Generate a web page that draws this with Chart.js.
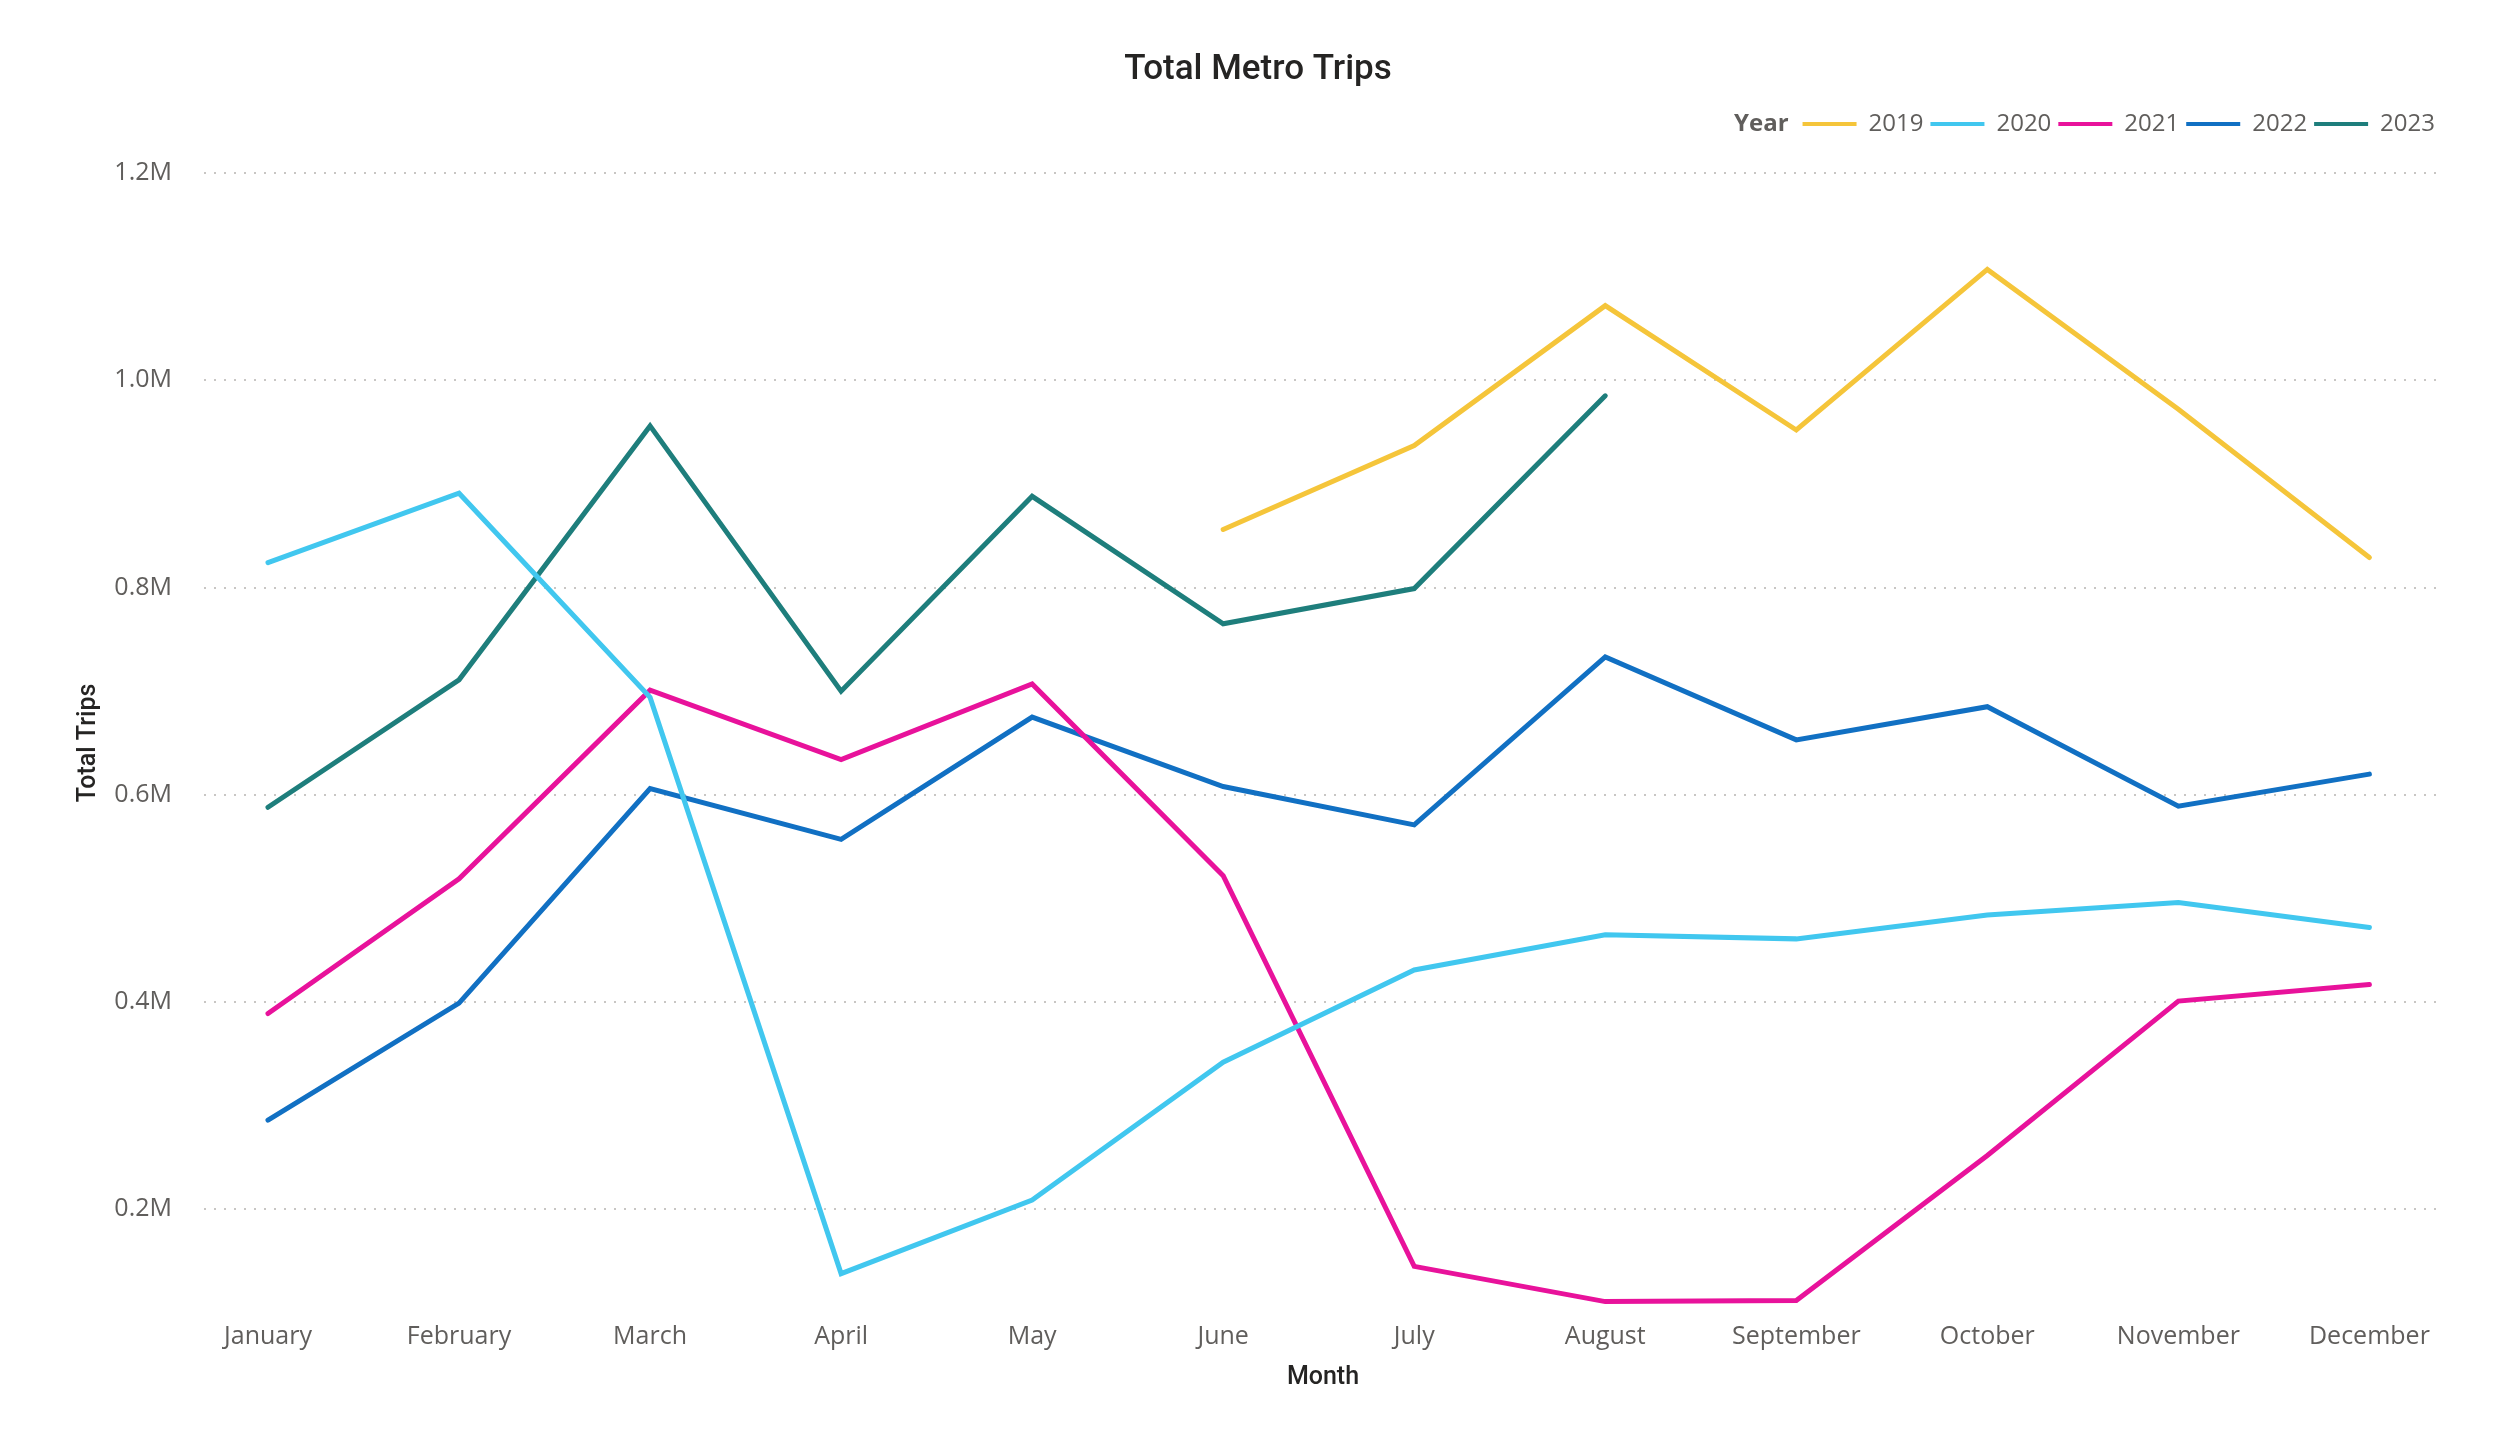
<!DOCTYPE html>
<html>
<head>
<meta charset="utf-8">
<script src="https://cdn.jsdelivr.net/npm/chart.js@4/dist/chart.umd.min.js"></script>
<style>
  html, body { margin: 0; padding: 0; background: #ffffff; }
  #wrap { width: 2500px; height: 1446px; position: relative; }
</style>
</head>
<body>
<div id="wrap"><canvas id="c"></canvas></div>
<script>
const months = ['January','February','March','April','May','June','July','August','September','October','November','December'];
const years = ['2019','2020','2021','2022','2023'];
const trips2019 = [null, null, null, null, null, 856000, 937000, 1072000, 952000, 1107000, 972000, 829000];
const trips2020 = [824000, 891000, 694000, 138000, 209000, 342000, 431000, 465000, 461000, 484000, 496000, 472000];
const trips2021 = [389000, 519000, 701000, 634000, 707000, 522000, 145000, 111000, 112000, 252000, 401000, 417000];
const trips2022 = [286000, 399000, 606000, 557000, 675000, 608000, 571000, 733000, 653000, 685000, 589000, 620000];
const trips2023 = [588000, 711000, 956000, 700000, 888000, 765000, 799000, 985000, null, null, null, null];
const yTickValues = [200000, 400000, 600000, 800000, 1000000, 1200000];
const yTickLabels = ['0.2M', '0.4M', '0.6M', '0.8M', '1.0M', '1.2M'];
const colors = ['#F5C53A', '#41C7EF', '#E8129B', '#1170C3', '#1E7E7C'];

const seriesList = [trips2019, trips2020, trips2021, trips2022, trips2023];

const datasets = seriesList.map((arr, k) => ({
  label: years[k],
  data: arr.map((v, i) => ({ x: i, y: v })),
  borderColor: colors[k],
  backgroundColor: colors[k],
  borderWidth: 5,
  borderCapStyle: 'round',
  borderJoinStyle: 'miter',
  pointRadius: 0,
  pointHoverRadius: 0,
  tension: 0,
  spanGaps: false,
  fill: false
}));

const legendExtras = {
  id: 'legendExtras',
  beforeUpdate(chart) {
    const lg = chart.legend;
    if (lg && !lg._patched) {
      const origFit = lg.fit.bind(lg);
      lg.fit = function () { origFit(); this.height += 27; };
      lg._patched = true;
    }
  },
  afterDraw(chart) {
    const lg = chart.legend;
    if (!lg || !lg.legendHitBoxes || !lg.legendHitBoxes.length) return;
    const hb = lg.legendHitBoxes[0];
    const ctx = chart.ctx;
    ctx.save();
    ctx.font = 'bold 24px "Open Sans"';
    ctx.fillStyle = '#605E5C';
    ctx.textAlign = 'right';
    ctx.textBaseline = 'middle';
    ctx.fillText('Year', hb.left - 14, hb.top + hb.height / 2);
    ctx.restore();
  }
};

new Chart(document.getElementById('c'), {
  type: 'line',
  data: { datasets },
  plugins: [legendExtras],
  options: {
    responsive: true,
    maintainAspectRatio: false,
    devicePixelRatio: 1,
    animation: false,
    layout: { padding: { left: 74, right: 58, top: 0, bottom: 53 } },
    plugins: {
      tooltip: { enabled: false },
      title: {
        display: true,
        text: 'Total Metro Trips',
        color: '#252423',
        font: { family: 'Roboto', size: 35, weight: '500' },
        padding: { top: 49, bottom: 14 }
      },
      legend: {
        display: true,
        position: 'top',
        align: 'end',
        labels: {
          boxWidth: 54,
          boxHeight: 4,
          padding: 7,
          color: '#605E5C',
          font: { family: 'Open Sans', size: 24 },
          generateLabels(chart) {
            const items = Chart.defaults.plugins.legend.labels.generateLabels(chart);
            return items.map(it => Object.assign(it, { lineWidth: 0, fillStyle: it.strokeStyle }));
          }
        }
      }
    },
    scales: {
      x: {
        type: 'linear',
        min: -0.335,
        max: 11.38,
        afterBuildTicks(scale) { scale.ticks = months.map((m, i) => ({ value: i })); },
        grid: { display: false },
        border: { display: false },
        ticks: {
          autoSkip: false,
          maxRotation: 0,
          padding: 1,
          color: '#605E5C',
          font: { family: 'Open Sans', size: 25 },
          callback: (v) => months[v] !== undefined ? months[v] : ''
        },
        title: {
          display: true,
          text: 'Month',
          color: '#252423',
          font: { family: 'Roboto', size: 25, weight: '500' },
          padding: { top: 10, bottom: 0 }
        }
      },
      y: {
        type: 'linear',
        min: 100000,
        max: 1200000,
        afterBuildTicks(scale) { scale.ticks = yTickValues.map(v => ({ value: v })); },
        afterFit(scale) { scale.width = 130; },
        grid: { color: '#C8C6C4', lineWidth: 2, drawTicks: false },
        border: { display: false, dash: [2, 8] },
        ticks: {
          padding: 32,
          color: '#605E5C',
          font: { family: 'Open Sans', size: 25 },
          callback: (v) => {
            const idx = yTickValues.indexOf(v);
            return idx >= 0 ? yTickLabels[idx] : '';
          }
        },
        title: {
          display: true,
          text: 'Total Trips',
          color: '#252423',
          font: { family: 'Roboto', size: 25, weight: '500' },
          padding: { top: 0, bottom: 10 }
        }
      }
    }
  }
});
</script>
</body>
</html>
